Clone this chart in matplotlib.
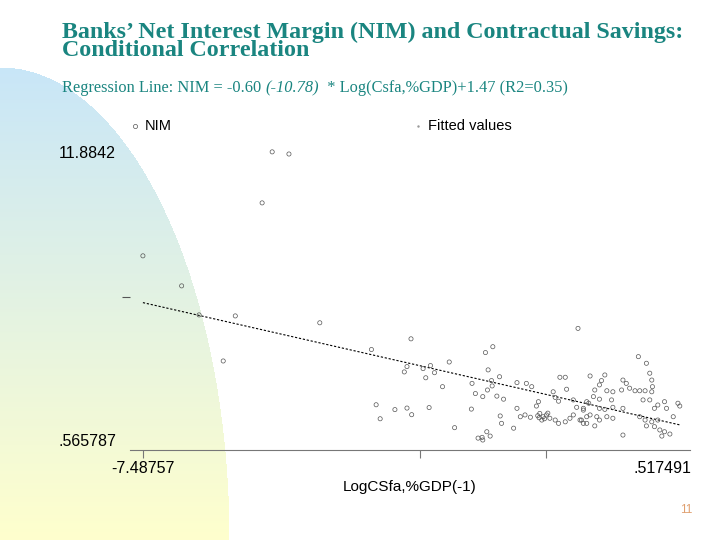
import matplotlib
matplotlib.use('Agg')

import matplotlib.pyplot as plt
import matplotlib.transforms as mtransforms
import numpy as np
from matplotlib.lines import Line2D

# NIM vs LogCSfa,%GDP(-1)
log_csfa = [-5.56, -5.31, -5.71, -7.48757, -6.91, -6.65, -6.11, -4.85, -6.29, -4.08, -3.49,
            -2.92, -3.55, -3.59, -3.31, -3.20, -3.14, -3.27, -3.02, -2.58, -2.53, -4.01, -3.73,
            -3.55, -3.48, -3.22, -3.95, -2.59, -2.84, -2.49,
            -1.00, -2.27, -2.38, -2.34, -2.17, -2.29, -2.28, -2.35, -2.42, -2.21, -2.11, -1.91,
            -1.77, -1.69, -1.27, -1.19, -1.17, -1.37, -1.34, -1.29, -1.59, -1.62, -1.07, -1.02,
            -0.92, -0.84, -1.91, -1.86, -1.79, -1.71, -1.57, -1.52, -1.47, -1.42, -1.54, -1.34,
            -1.29, -1.19, -1.12, -1.07, -0.97, -0.92, -0.87, -1.96, -2.14, -2.36, -2.16, -2.43,
            -1.60, -1.50, -1.45, -1.58,
            -0.10, 0.02, 0.07, 0.10, 0.11, 0.10, -0.82, -0.60, -0.65, -0.68, -0.33, -0.28, -0.35,
            -0.23, -0.15, -0.08, 0.00, -0.75, -0.57, -0.48, -0.77, -0.68, -0.87, -0.03, 0.07,
            0.19, 0.29, 0.14, 0.32, 0.49, 0.517491, -0.50, -0.48, -0.33, -0.68, -0.60, -0.92,
            -0.82, -0.95, -0.87, -0.72, -0.68, -0.57, -0.48, -0.75, -0.08, 0.00, 0.10, 0.19,
            0.02, 0.14, 0.22, 0.29, 0.42, -0.33,
            -2.31, 0.25, 0.37, -2.42]
nim = [11.8842, 11.80, 9.88, 7.80, 6.62, 5.48, 5.44, 5.17, 3.67, 4.12, 4.54,
       3.63, 3.45, 3.24, 3.37, 3.49, 3.21, 3.01, 2.66, 2.79, 2.39, 1.95, 1.76,
       1.82, 1.56, 1.84, 1.40, 1.78, 1.05, 0.64,
       4.95, 4.23, 4.00, 3.32, 3.05, 2.90, 2.69, 2.53, 2.27, 2.29, 2.17, 2.82,
       2.79, 2.66, 3.03, 3.03, 2.56, 2.46, 2.24, 2.09, 2.07, 1.90, 2.14, 1.85,
       1.81, 2.01, 1.81, 1.48, 1.55, 1.46, 1.61, 1.48, 1.55, 1.42, 1.35, 1.35,
       1.22, 1.28, 1.42, 1.55, 1.35, 1.22, 1.48, 1.03, 1.22, 0.89, 1.51, 0.67,
       1.52, 1.40, 1.62, 1.44,
       3.84, 3.58, 3.19, 2.92, 2.66, 2.46, 3.08, 3.12, 2.90, 2.73, 2.92, 2.79, 2.53,
       2.60, 2.50, 2.50, 2.50, 2.53, 2.50, 2.46, 2.27, 2.17, 2.07, 2.14, 2.14,
       1.94, 2.07, 1.81, 1.81, 2.01, 1.90, 2.14, 1.85, 1.81, 1.81, 1.77, 1.74,
       1.55, 1.35, 1.22, 1.48, 1.35, 1.48, 1.42, 1.12, 1.48, 1.35, 1.28, 1.35,
       1.12, 1.09, 0.96, 0.89, 1.48, 0.76,
       0.72, 0.72, 0.80, 0.565787]

# regression from the subtitle
slope = -0.60
intercept = 1.47

x_labels = [-7.48757, 0.517491]
y_labels = [0.565787, 11.8842]

teal = '#1a8580'

fig = plt.figure(figsize=(7.2, 5.4), dpi=100)

# slide background: gradient half-ellipse on the left
H, W = 540, 720
rows = np.arange(H)[:, None]
cols = np.arange(W)[None, :]
a, yc, b = 229.0, 540.0, 473.0
dy = np.clip((yc - rows) / b, 0, 1)
edge = a * np.sqrt(1 - dy ** 2)
inside = cols < edge
t = np.clip((rows - 65) / (540 - 65), 0, 1)[:, :, None]
top = np.array([200, 230, 248]) / 255.0
bot = np.array([255, 255, 205]) / 255.0
rgb = top * (1 - t) + bot * t
img = np.ones((H, W, 3))
img[:] = np.where(inside[:, :, None], rgb, 1.0)
bg = fig.add_axes([0, 0, 1, 1], zorder=-1)
bg.imshow(img, aspect='auto', interpolation='bilinear')
bg.axis('off')

ax = fig.add_axes([130 / 720, 1 - 450 / 540, 560 / 720, 310 / 540])
ax.patch.set_alpha(0)

ax.scatter(log_csfa, nim, s=9, facecolors='none', edgecolors='#555555', linewidths=0.5, zorder=3)

fx = np.array([min(log_csfa), max(log_csfa)])
ax.plot(fx, intercept + slope * fx, color='black', lw=0.8, linestyle=(0, (2, 1.6)), zorder=2)

ax.set_xlim(-7.68, 0.67)
ax.set_ylim(0.173, 12.35)

for s in ['top', 'right', 'left']:
    ax.spines[s].set_visible(False)
ax.spines['bottom'].set_color('#777777')
ax.spines['bottom'].set_linewidth(0.8)

ax.set_xticks(x_labels)
ax.set_xticklabels(['-7.48757', '.517491'], fontsize=11.5, family='Liberation Sans')
ax.set_xticks([-3.36, -1.48], minor=True)
ax.tick_params(axis='x', which='both', length=6, color='#777777', width=0.8, pad=2)
ax.xaxis.get_major_ticks()[1].tick1line.set_visible(False)

ax.set_yticks(y_labels)
ax.set_yticklabels(['.565787', '11.8842'], fontsize=11.5, family='Liberation Sans')
ax.set_yticks([6.2], minor=True)
ax.tick_params(axis='y', which='major', length=0, pad=10)
ax.tick_params(axis='y', which='minor', length=6, color='#555555', width=0.8)

# the max label sits a little left of its value on the slide
right_lbl = ax.xaxis.get_major_ticks()[1].label1
right_lbl.set_transform(right_lbl.get_transform() +
                        mtransforms.ScaledTranslation(-0.17, 0, fig.dpi_scale_trans))

ax.set_xlabel('LogCSfa,%GDP(-1)', fontsize=11, family='Liberation Sans', labelpad=3)

# legend above the plot
fig.add_artist(Line2D([135 / 720], [1 - 126 / 540], marker='o', markersize=3, mfc='none',
                      mec='#555555', mew=0.5, transform=fig.transFigure))
fig.text(145 / 720, 1 - 126 / 540, 'NIM', fontsize=10.5, family='Liberation Sans', va='center')
fig.add_artist(Line2D([418 / 720], [1 - 126 / 540], marker='.', markersize=1.5, color='#999999',
                      transform=fig.transFigure))
fig.text(428 / 720, 1 - 126 / 540, 'Fitted values', fontsize=10.5, family='Liberation Sans', va='center')

# title, two tight lines as on the slide
fig.text(62 / 720, 1 - 22 / 540,
         'Banks\u2019 Net Interest Margin (NIM) and Contractual Savings:\nConditional Correlation',
         fontsize=17.3, family='Liberation Serif', weight='bold', color=teal, va='top',
         linespacing=0.78)

t1 = fig.text(62 / 720, 1 - 96 / 540, 'Regression Line: NIM = -0.60 ', fontsize=11.8,
              family='Liberation Serif', color=teal, va='bottom')
t2 = ax.annotate('(-10.78)', xy=(1, 0), xycoords=t1, fontsize=11.8, family='Liberation Serif',
                 style='italic', color=teal, va='bottom')
ax.annotate('  * Log(Csfa,%GDP)+1.47 (R2=0.35)', xy=(1, 0), xycoords=t2, fontsize=11.8,
            family='Liberation Serif', color=teal, va='bottom')

fig.text(692 / 720, 1 - 510 / 540, '11', fontsize=8.5, family='Liberation Sans', color='#e0a070',
         ha='right', va='center')

plt.savefig('out.png', dpi=100)
